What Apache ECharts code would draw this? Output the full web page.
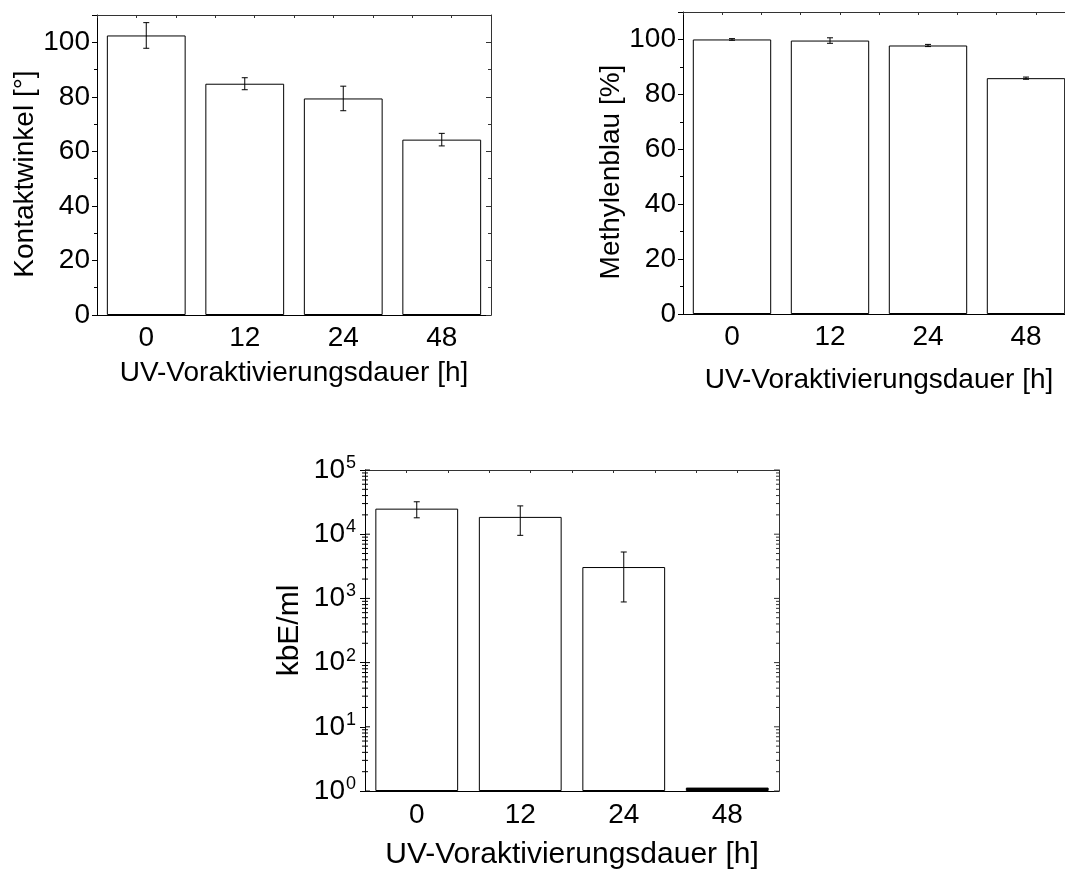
<!DOCTYPE html>
<html>
<head>
<meta charset="utf-8">
<script src="https://cdn.jsdelivr.net/npm/echarts@6/dist/echarts.min.js"></script>
<style>
  html, body { margin: 0; padding: 0; background: #fff; overflow: hidden; }
  /* wider than the window on purpose: the right panel runs off the page edge */
  #chart { width: 1100px; height: 873px; }
</style>
</head>
<body>
<div id="chart"></div>
<script>
const categories = ["0", "12", "24", "48"]
const contactAngle = [102.5, 84.8, 79.4, 64.3]
const contactAngleErr = [4.7, 2.2, 4.5, 2.3]
const methylene = [100.0, 99.6, 97.8, 85.9]
const methyleneErr = [0.3, 1.0, 0.4, 0.4]
const cfu = [25000, 18600, 3080, 1.13]
const cfuErr = [7000, 9000, 2200, 0]
const logDecades = [0, 1, 2, 3, 4, 5]
const logMinorFactors = [2, 3, 4, 5, 6, 7, 8, 9]

const FONT = "'Liberation Sans', Arial, sans-serif"
const INK = "#000"
const EDGE = "#333"

const chart = echarts.init(document.getElementById("chart"), null, { renderer: "canvas" })

function catAxis(gridIndex, gap, size, nameSize, margin) {
  return {
    type: "category", gridIndex, position: "bottom", data: categories,
    axisLine: { lineStyle: { color: INK, width: 1 } },
    axisTick: { alignWithLabel: true, length: 5, lineStyle: { color: INK } },
    axisLabel: { color: INK, fontSize: size, fontFamily: FONT, margin },
    name: "UV-Voraktivierungsdauer [h]", nameLocation: "middle", nameGap: gap,
    nameTextStyle: { color: INK, fontSize: nameSize, fontFamily: FONT }
  }
}

function boundaryAxis(gridIndex) {
  return {
    type: "category", gridIndex, position: "bottom", data: categories,
    axisLine: { show: false },
    axisTick: { length: 3, lineStyle: { color: INK } },
    axisLabel: { show: false }
  }
}

function topAxis(gridIndex) {
  return {
    type: "value", gridIndex, position: "top", min: 0, max: 10, interval: 1,
    axisLine: { show: true, lineStyle: { color: EDGE } },
    axisTick: { inside: true, length: 3, lineStyle: { color: EDGE } },
    axisLabel: { show: false },
    splitLine: { show: false }
  }
}

function linAxis(gridIndex, name, gap, right) {
  return {
    type: "value", gridIndex, position: right ? "right" : "left",
    min: 0, max: 110, interval: 20,
    axisLine: { show: true, lineStyle: { color: right ? EDGE : INK } },
    axisTick: { show: true, inside: !!right, length: 5, lineStyle: { color: right ? EDGE : INK } },
    minorTick: { show: true, splitNumber: 2, length: 3, lineStyle: { color: right ? EDGE : INK } },
    axisLabel: { show: !right, showMaxLabel: false, color: INK, fontSize: 28, fontFamily: FONT, margin: 7 },
    splitLine: { show: false },
    name: right ? "" : name, nameLocation: "middle", nameGap: gap, nameRotate: 90,
    nameTextStyle: { color: INK, fontSize: 28, fontFamily: FONT, padding: [0, 0, 0, -18] }
  }
}

function logAxis(gridIndex, right) {
  return {
    type: "log", logBase: 10, gridIndex, position: right ? "right" : "left",
    min: 1, max: 100000,
    axisLine: { show: true, lineStyle: { color: right ? EDGE : INK } },
    axisTick: { show: !right, length: 5, lineStyle: { color: INK } },
    axisLabel: {
      show: !right, color: INK, fontFamily: FONT, margin: 9,
      formatter: v => "{b|10}{s|" + Math.round(Math.log10(v)) + "}",
      rich: {
        b: { fontSize: 28, fontFamily: FONT, color: INK, lineHeight: 32 },
        s: { fontSize: 18, fontFamily: FONT, color: INK, verticalAlign: "top", lineHeight: 32, padding: [0, 0, 10, 1] }
      }
    },
    splitLine: { show: false },
    name: right ? "" : "kbE/ml", nameLocation: "middle", nameGap: 60, nameRotate: 90,
    nameTextStyle: { color: INK, fontSize: 30, fontFamily: FONT }
  }
}

function barSeries(xi, yi, values) {
  return {
    type: "bar", xAxisIndex: xi, yAxisIndex: yi, barWidth: "80%",
    data: values.map(v => ({ value: v, itemStyle: v < 2 ? { color: INK } : undefined })),
    itemStyle: { color: "#fff", borderColor: INK, borderWidth: 1 },
    silent: true, z: 2
  }
}

function errorSeries(xi, yi, values, errs, cap) {
  return {
    type: "custom", xAxisIndex: xi, yAxisIndex: yi, silent: true, z: 3,
    data: values.map((v, i) => [i, v, errs[i]]),
    renderItem(params, api) {
      const i = api.value(0), v = api.value(1), e = api.value(2)
      if (!e) return null
      const hi = api.coord([i, v + e])
      const lo = api.coord([i, v - e])
      const style = { stroke: INK, lineWidth: 1 }
      return {
        type: "group",
        children: [
          { type: "line", shape: { x1: hi[0], y1: hi[1], x2: lo[0], y2: lo[1] }, style },
          { type: "line", shape: { x1: hi[0] - cap, y1: hi[1], x2: hi[0] + cap, y2: hi[1] }, style },
          { type: "line", shape: { x1: lo[0] - cap, y1: lo[1], x2: lo[0] + cap, y2: lo[1] }, style }
        ]
      }
    }
  }
}

// log minor ticks (2..9 per decade) plus the inner half of the major ticks
const logTicks = []
logDecades.forEach(d => {
  logTicks.push([0, Math.pow(10, d), 1])
  if (d < 5) logMinorFactors.forEach(f => logTicks.push([0, f * Math.pow(10, d), 0]))
})

const logTickSeries = {
  type: "custom", xAxisIndex: 6, yAxisIndex: 3, silent: true, z: 4,
  data: logTicks,
  renderItem(params, api) {
    const y = api.coord([0, api.value(1)])[1]
    const cs = params.coordSys
    const major = api.value(2) === 1
    const l = cs.x, r = cs.x + cs.width
    const style = { stroke: INK, lineWidth: 1 }
    return {
      type: "group",
      children: [
        { type: "line", shape: { x1: major ? l : l - 3, y1: y, x2: l + (major ? 5 : 3), y2: y }, style },
        { type: "line", shape: { x1: r - (major ? 5 : 3), y1: y, x2: r, y2: y }, style: { stroke: EDGE, lineWidth: 1 } }
      ]
    }
  }
}

chart.setOption({
  animation: false,
  textStyle: { fontFamily: FONT },
  grid: [
    { left: 97, top: 15, width: 394, height: 300 },
    { left: 683, top: 12, width: 392, height: 302 },
    { left: 365, top: 470, width: 414, height: 321 }
  ],
  xAxis: [
    catAxis(0, 44, 28, 28, 9), boundaryAxis(0), topAxis(0),
    catAxis(1, 52, 28, 28, 9), boundaryAxis(1), topAxis(1),
    catAxis(2, 49, 28, 30, 10), boundaryAxis(2), topAxis(2)
  ],
  yAxis: [
    linAxis(0, "Kontaktwinkel [°]", 58, false), linAxis(0, "", 0, true),
    linAxis(1, "Methylenblau [%]", 58, false),
    logAxis(2, false), logAxis(2, true)
  ],
  series: [
    barSeries(0, 0, contactAngle), errorSeries(0, 0, contactAngle, contactAngleErr, 3),
    barSeries(3, 2, methylene), errorSeries(3, 2, methylene, methyleneErr, 3),
    barSeries(6, 3, cfu), errorSeries(6, 3, cfu, cfuErr, 3),
    logTickSeries
  ]
})
</script>
</body>
</html>
